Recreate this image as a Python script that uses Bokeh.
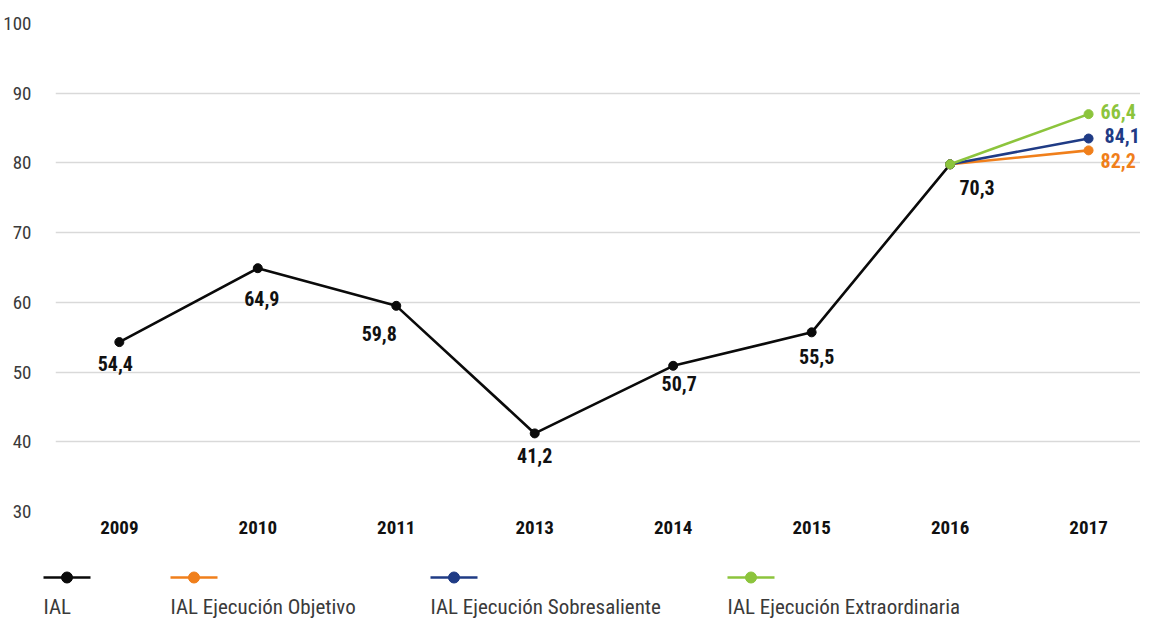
from bokeh.plotting import figure
from bokeh.models import Range1d, FixedTicker, ColumnDataSource
from bokeh.layouts import column
from bokeh.core.properties import value
from bokeh.embed import file_html
from bokeh.resources import INLINE

# ---- data ----
years = ["2009", "2010", "2011", "2013", "2014", "2015", "2016", "2017"]
ial = [54.3, 64.9, 59.5, 41.2, 50.9, 55.7, 79.8]
ial_labels = ["54,4", "64,9", "59,8", "41,2", "50,7", "55,5", "70,3"]
objetivo_2017 = 81.8
sobresaliente_2017 = 83.5
extraordinaria_2017 = 87.0
proj_labels = ["82,2", "84,1", "66,4"]
series_names = ["IAL", "IAL Ejecución Objetivo", "IAL Ejecución Sobresaliente",
                "IAL Ejecución Extraordinaria"]
y_ticks = [30, 40, 50, 60, 70, 80, 90, 100]

# ---- style ----
FONT = "'Roboto Condensed', 'DejaVu Sans Condensed', 'Liberation Sans Narrow', Roboto"
C_BLACK = "#0a0a0a"
C_ORANGE = "#F07F1B"
C_BLUE = "#1F3B85"
C_GREEN = "#8CC43C"
colors = [C_BLACK, C_ORANGE, C_BLUE, C_GREEN]

idx = list(range(len(years)))
ial_x = idx[:len(ial)]
proj_x = [idx[6], idx[7]]

p = figure(width=1140, height=545, x_range=Range1d(-0.461, 7.375),
           y_range=Range1d(30, 100), output_backend="svg", toolbar_location=None,
           min_border_left=53, min_border_right=0, min_border_top=23,
           min_border_bottom=34)
p.frame_align = False
p.outline_line_color = None
p.background_fill_color = "white"
p.border_fill_color = "white"
p.xgrid.grid_line_color = None
p.ygrid.grid_line_color = "#d9d9d9"
p.ygrid.grid_line_width = 1.5
p.yaxis.ticker = FixedTicker(ticks=y_ticks)
p.xaxis.ticker = FixedTicker(ticks=idx)
p.xaxis.major_label_overrides = {i: y for i, y in enumerate(years)}
for ax in (p.xaxis, p.yaxis):
    ax.axis_line_color = None
    ax.major_tick_line_color = None
    ax.minor_tick_line_color = None
p.yaxis.major_label_text_font = FONT
p.yaxis.major_label_text_font_size = "19px"
p.yaxis.major_label_text_color = "#3a3a3a"
p.yaxis.major_label_standoff = 18
p.xaxis.major_label_text_font = FONT
p.xaxis.major_label_text_font_size = "19px"
p.xaxis.major_label_text_font_style = "bold"
p.xaxis.major_label_text_color = "#111111"
p.xaxis.major_label_standoff = 3

# IAL line
p.line(ial_x, ial, line_color=C_BLACK, line_width=2.6)
p.scatter(ial_x, ial, size=9, fill_color=C_BLACK, line_color=C_BLACK)

# projections
for val, col in [(objetivo_2017, C_ORANGE), (sobresaliente_2017, C_BLUE),
                 (extraordinaria_2017, C_GREEN)]:
    ys = [ial[-1], val]
    p.line(proj_x, ys, line_color=col, line_width=2.6)
    p.scatter(proj_x, ys, size=9, fill_color=col, line_color=col)

# value labels
lab_dx = [-4, 4, -17, 0, 6, 5, 27]
lab_dy = [21, 30, 28, 22, 18, 24, 23]
src = ColumnDataSource(dict(x=ial_x, y=ial, t=ial_labels, dx=lab_dx, dy=lab_dy))
p.text(x="x", y="y", text="t", x_offset="dx", y_offset="dy", source=src,
       text_font=value(FONT), text_font_size="20px", text_font_style="bold",
       text_color="#111111", text_align="center", text_baseline="middle")

proj_vals = [objetivo_2017, sobresaliente_2017, extraordinaria_2017]
src2 = ColumnDataSource(dict(x=[idx[7]] * 3, y=proj_vals, t=proj_labels,
                             dx=[12, 16, 12], dy=[10, -3, -3],
                             c=[C_ORANGE, C_BLUE, C_GREEN]))
p.text(x="x", y="y", text="t", x_offset="dx", y_offset="dy", source=src2,
       text_font=value(FONT), text_font_size="20px", text_font_style="bold",
       text_color="c", text_align="left", text_baseline="middle")

# ---- legend (separate strip) ----
lg = figure(width=1140, height=77, x_range=Range1d(0, 1140), y_range=Range1d(0, 77),
            output_backend="svg", toolbar_location=None,
            min_border_left=0, min_border_right=0, min_border_top=0, min_border_bottom=0)
lg.frame_align = False
lg.axis.visible = False
lg.grid.visible = False
lg.outline_line_color = None
legend_left = [43, 170, 430, 727]
sym_w = 47
sym_y = 45
for name, col, x0 in zip(series_names, colors, legend_left):
    lg.line([x0, x0 + sym_w], [sym_y, sym_y], line_color=col, line_width=2.6)
    lg.scatter([x0 + sym_w / 2], [sym_y], size=11, fill_color=col, line_color=col)
    lg.text([x0], [16], text=[name], text_font=value(FONT), text_font_size="21px",
            text_color="#3a3a3a", text_align="left", text_baseline="alphabetic")

layout = column(p, lg, spacing=0)
open("out.html", "w").write(file_html(layout, INLINE))
